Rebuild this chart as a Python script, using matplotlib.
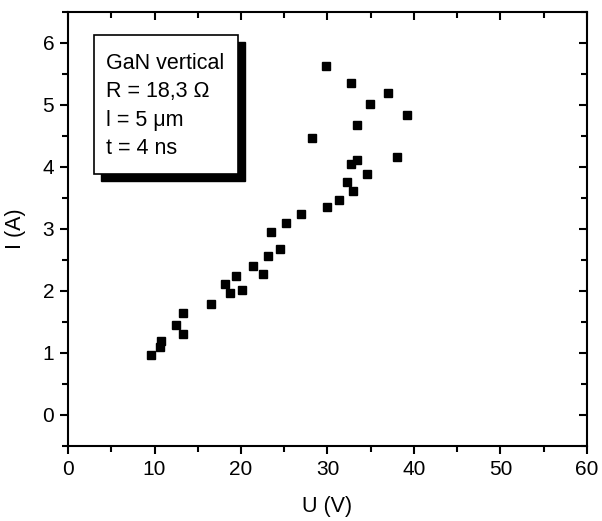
import matplotlib.pyplot as plt
from matplotlib.patches import Rectangle
from matplotlib.ticker import MultipleLocator

plt.rcParams["font.family"] = ["Liberation Sans", "DejaVu Sans"]

# measured points, U in volts, I in amperes
voltage = [
    29.8, 32.7, 37.0, 34.95, 39.25, 33.4, 28.2, 38.0, 33.4, 32.7, 34.55,
    32.3, 33.0, 31.3, 30.0, 26.9, 25.2, 23.5, 24.5, 23.1, 21.4, 22.5,
    19.4, 18.1, 18.7, 20.1, 16.5, 13.3, 12.5, 13.3, 10.7, 10.6, 9.55,
]
current = [
    5.63, 5.35, 5.19, 5.01, 4.84, 4.68, 4.46, 4.16, 4.11, 4.05, 3.88,
    3.76, 3.61, 3.47, 3.36, 3.24, 3.10, 2.95, 2.67, 2.56, 2.41, 2.28,
    2.24, 2.12, 1.97, 2.01, 1.79, 1.65, 1.45, 1.31, 1.20, 1.09, 0.96,
]
box_lines = ["GaN vertical", "R = 18,3 \u03a9", "l = 5 \u03bcm", "t = 4 ns"]

fig = plt.figure(figsize=(6.02, 5.21), dpi=100, facecolor="white")
ax = fig.add_axes([0.113, 0.144, 0.862, 0.833])

ax.plot(voltage, current, "s", color="black", markersize=5.5, linestyle="none")

ax.set_xlim(0, 60)
ax.set_ylim(-0.5, 6.5)
ax.xaxis.set_major_locator(MultipleLocator(10))
ax.xaxis.set_minor_locator(MultipleLocator(5))
ax.yaxis.set_major_locator(MultipleLocator(1))
ax.yaxis.set_minor_locator(MultipleLocator(0.5))

for side in ax.spines.values():
    side.set_linewidth(1.5)
ax.tick_params(which="both", direction="out", width=1.5, top=True, right=True,
               labelsize=15, pad=4)
ax.tick_params(which="major", length=6)
ax.tick_params(which="minor", length=4)
# top and right ticks point inward
for t in ax.xaxis.get_major_ticks() + ax.xaxis.get_minor_ticks():
    t.tick2line.set_marker(3)
for t in ax.yaxis.get_major_ticks() + ax.yaxis.get_minor_ticks():
    t.tick2line.set_marker(0)

ax.set_xlabel("U (V)", fontsize=15.5, labelpad=12)
ax.set_ylabel("I (A)", fontsize=15.5, labelpad=12)

# info box with drop shadow
ax.add_patch(Rectangle((0.064, 0.610), 0.277, 0.320, transform=ax.transAxes,
                       facecolor="black", edgecolor="black", zorder=4))
ax.add_patch(Rectangle((0.051, 0.627), 0.277, 0.320, transform=ax.transAxes,
                       facecolor="white", edgecolor="black", linewidth=1.2,
                       zorder=5))
for i, line in enumerate(box_lines):
    ax.text(0.074, 0.869 - i * 0.0656, line, transform=ax.transAxes,
            fontsize=15.5, va="baseline", ha="left", zorder=6)

fig.savefig("out.png", dpi=100)
